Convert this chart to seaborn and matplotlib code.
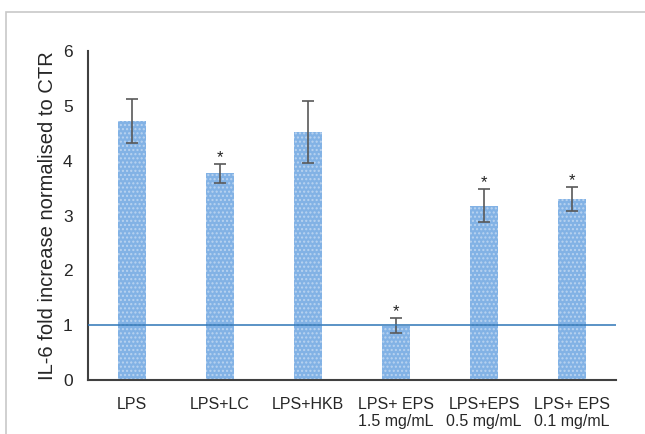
import numpy as np
import pandas as pd
import matplotlib
matplotlib.use("Agg")
import matplotlib.pyplot as plt
import seaborn as sns
from matplotlib.patches import Rectangle

grupos = ["LPS", "LPS+LC", "LPS+HKB", "LPS+ EPS\n1.5 mg/mL", "LPS+EPS\n0.5 mg/mL", "LPS+ EPS\n0.1 mg/mL"]
medias = [4.72, 3.77, 4.52, 0.99, 3.18, 3.30]
erros = [0.40, 0.17, 0.56, 0.14, 0.30, 0.22]
significativo = [False, True, False, True, True, True]

df = pd.DataFrame({"grupo": grupos, "media": medias, "erro": erros})

sns.set_theme(style="white")
plt.rcParams['font.family'] = ['Liberation Sans', 'DejaVu Sans']

fig = plt.figure(figsize=(6.45, 4.34), dpi=100)
ax = fig.add_axes([88 / 645, 1 - 380 / 434, (616 - 88) / 645, (380 - 51) / 434])

sns.barplot(data=df, x="grupo", y="media", color="#82B2E5", width=0.32,
            saturation=1, errorbar=None, ax=ax, linewidth=0)
for p in ax.patches:
    p.set_hatch("....")
    p.set_edgecolor("#B9D3F0")
    p.set_linewidth(0)

ax.errorbar(np.arange(len(grupos)), df["media"], yerr=df["erro"], fmt="none",
            ecolor="#595959", elinewidth=1.2, capsize=4, capthick=1.2)

ax.axhline(1, color="#2E75B6", linewidth=1.1, zorder=3)

for i, (m, e, s) in enumerate(zip(medias, erros, significativo)):
    if s:
        ax.text(i, m + e - 0.02, "*", ha="center", va="bottom", fontsize=12, color="#222222")

ax.set_xlim(-0.5, 5.5)
ax.set_ylim(0, 6)
ax.set_yticks(range(0, 7))
ax.set_xlabel("")
ax.set_ylabel("IL-6 fold increase normalised to CTR", fontsize=14.5, labelpad=4)
ax.tick_params(axis="y", labelsize=12.5, length=0, pad=11)
ax.tick_params(axis="x", labelsize=11.5, length=0, pad=12)

sns.despine(ax=ax)
ax.spines["left"].set_color("#404040")
ax.spines["bottom"].set_color("#404040")
ax.spines["left"].set_linewidth(1.5)
ax.spines["bottom"].set_linewidth(1.5)

# moldura cinza em volta do grafico
fig.patches.append(Rectangle((6 / 645, -0.1), 1.2, 1 - 12 / 434 + 0.1, transform=fig.transFigure,
                             fill=False, edgecolor="#C8C8C8", linewidth=1.2))

fig.savefig("out.png", dpi=100)
